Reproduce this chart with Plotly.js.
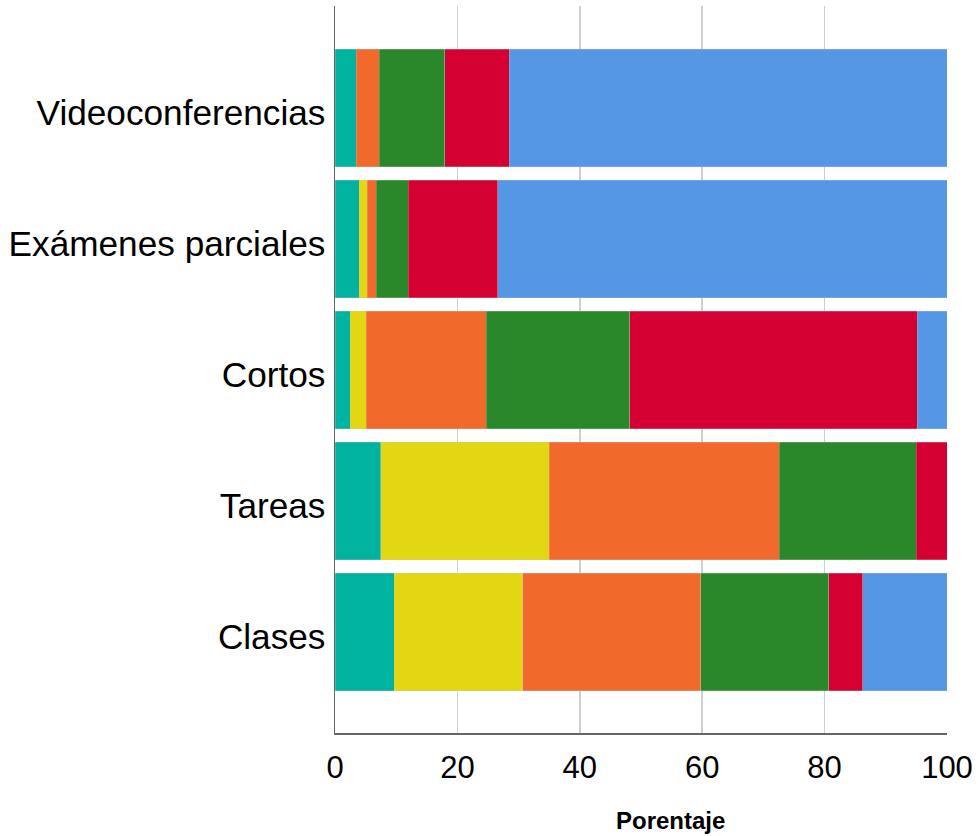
<!DOCTYPE html>
<html>
<head>
<meta charset="utf-8">
<script src="https://cdn.plot.ly/plotly-3.0.1.min.js"></script>
<style>html,body{margin:0;padding:0;background:#fff;}#chart{width:978px;height:836px;}</style>
</head>
<body>
<div id="chart"></div>
<script>
// Categories (bottom to top)
const categories = ["Clases", "Tareas", "Cortos", "Exámenes parciales", "Videoconferencias"];

// Series values (percent), same order as categories
const serie1 = [9.7, 7.5, 2.5, 4.0, 3.5];     // teal
const serie2 = [21.0, 27.5, 2.6, 1.3, 0.0];   // yellow
const serie3 = [29.1, 37.6, 19.6, 1.4, 3.7];  // orange
const serie4 = [20.9, 22.4, 23.5, 5.3, 10.7]; // green
const serie5 = [5.5, 5.0, 46.9, 14.6, 10.6];  // red
const serie6 = [13.8, 0.0, 4.9, 73.4, 71.5];  // blue

const seriesNames = ["Serie 1", "Serie 2", "Serie 3", "Serie 4", "Serie 5", "Serie 6"];
const seriesValues = [serie1, serie2, serie3, serie4, serie5, serie6];
const seriesColors = ["#00B2A0", "#E2D712", "#F2692C", "#2A872A", "#D50032", "#5596E5"];

const xTicks = [0, 20, 40, 60, 80, 100];
const xTitle = "Porentaje";

const traces = seriesValues.map((vals, i) => ({
  type: "bar",
  orientation: "h",
  name: seriesNames[i],
  y: categories,
  x: vals,
  marker: { color: seriesColors[i], line: { color: "rgba(200,200,200,0.6)", width: 0.5 } },
  hoverinfo: "x+y+name"
}));

const layout = {
  width: 978,
  height: 836,
  barmode: "stack",
  bargap: 0.1,
  showlegend: false,
  paper_bgcolor: "#fff",
  plot_bgcolor: "#fff",
  margin: { l: 335, r: 31, t: 6, b: 103, pad: 0 },
  font: { family: "Liberation Sans, Arial, sans-serif", color: "#000" },
  xaxis: {
    range: [0, 100],
    tickvals: xTicks,
    ticktext: xTicks.map(String),
    tickfont: { size: 31, color: "#000" },
    showgrid: true,
    gridcolor: "#cfcfcf",
    gridwidth: 1.5,
    zeroline: false,
    showline: true,
    linecolor: "#666",
    linewidth: 1.5,
    ticks: "",
    ticklabelstandoff: 6,
    fixedrange: true
  },
  yaxis: {
    type: "category",
    categoryorder: "array",
    categoryarray: categories,
    range: [-0.771, 4.779],
    tickfont: { size: 35.2, color: "#000" },
    showgrid: false,
    zeroline: false,
    showline: true,
    linecolor: "#666",
    linewidth: 1.5,
    ticks: "",
    ticklabelstandoff: 1,
    ticklabelshift: 5,
    fixedrange: true
  },
  annotations: [{
    text: xTitle,
    xref: "paper", yref: "paper",
    x: 0.549, y: 0,
    yshift: -87,
    xanchor: "center", yanchor: "middle",
    showarrow: false,
    font: { size: 24, color: "#000", family: "Liberation Sans, Arial, sans-serif", weight: "bold" }
  }]
};

Plotly.newPlot("chart", traces, layout, { displayModeBar: false, staticPlot: true });
</script>
</body>
</html>
